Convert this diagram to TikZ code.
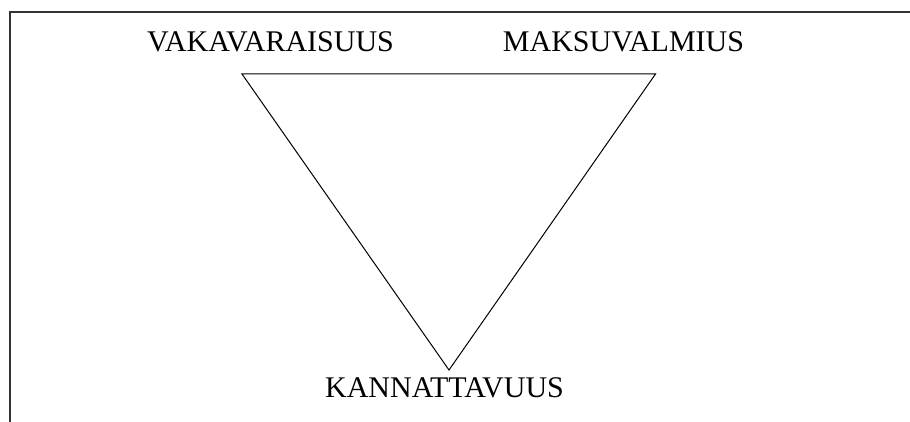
\documentclass[tikz,border=0pt]{standalone}
\usepackage{fontspec}
\setmainfont{Liberation Serif}
\begin{document}
\begin{tikzpicture}[x=1pt,y=-1pt,
  lbl/.style={anchor=base,inner sep=0pt,font=\fontsize{30}{36}\selectfont},
  edge/.style={draw=black,line width=1pt,line join=miter},
  frame/.style={draw=black!80,line width=1.5pt}]
\useasboundingbox (0,0) rectangle (910,422);
\draw[frame] (10,422) -- (10,12) -- (910,12);
\coordinate (tl) at (242,74);
\coordinate (tr) at (655.5,74);
\coordinate (bt) at (449,370);
\draw[edge] (tl) -- (tr) -- (bt) -- cycle;
\node[lbl] (vaka) at (270.5,52) {VAKAVARAISUUS};
\node[lbl] (maksu) at (623.5,52) {MAKSUVALMIUS};
\node[lbl] (kanna) at (444.5,397) {KANNATTAVUUS};
\end{tikzpicture}
\end{document}
